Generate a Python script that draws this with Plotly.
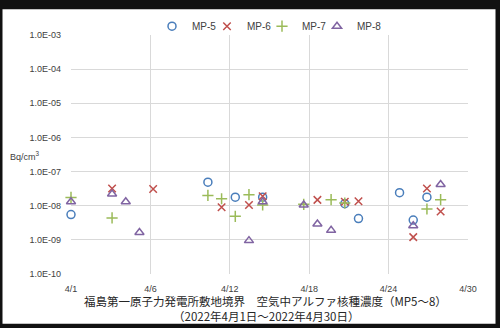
import plotly.graph_objects as go

# Data (day of April 2022, concentration Bq/cm3)
mp5_days = [1, 11, 13, 15, 21, 22, 25, 26, 27]
mp5_vals = [5.5e-9, 4.9e-8, 1.78e-8, 1.78e-8, 1.15e-8, 4.2e-9, 2.4e-8, 3.8e-9, 1.78e-8]

mp6_days = [4, 7, 12, 14, 15, 19, 21, 22, 26, 27, 28]
mp6_vals = [3.2e-8, 3.1e-8, 9.0e-9, 1.05e-8, 1.9e-8, 1.48e-8, 1.3e-8, 1.35e-8, 1.2e-9, 3.2e-8, 6.8e-9]

mp7_days = [1, 4, 11, 12, 13, 14, 15, 18, 20, 21, 27, 28]
mp7_vals = [1.75e-8, 4.4e-9, 2.0e-8, 1.6e-8, 4.9e-9, 2.1e-8, 1.05e-8, 1.1e-8, 1.5e-8, 1.2e-8, 8.0e-9, 1.5e-8]

mp8_days = [1, 4, 5, 6, 14, 15, 18, 19, 20, 26, 28]
mp8_vals = [1.3e-8, 2.2e-8, 1.3e-8, 1.65e-9, 9.5e-10, 1.3e-8, 1.05e-8, 2.9e-9, 1.9e-9, 2.6e-9, 4.2e-8]

x_tickvals = [1, 6.8, 12.6, 18.4, 24.2, 30]
x_ticktext = ["4/1", "4/6", "4/12", "4/18", "4/24", "4/30"]
y_tickvals = [1e-10, 1e-9, 1e-8, 1e-7, 1e-6, 1e-5, 1e-4, 1e-3]
y_ticktext = ["1.0E-10", "1.0E-09", "1.0E-08", "1.0E-07", "1.0E-06", "1.0E-05", "1.0E-04", "1.0E-03"]

series = [
    ("MP-5", mp5_days, mp5_vals, "circle-open", "#4A7EBB", 8),
    ("MP-6", mp6_days, mp6_vals, "x-thin-open", "#C0504D", 7.5),
    ("MP-7", mp7_days, mp7_vals, "cross-thin-open", "#9BBB59", 8),
    ("MP-8", mp8_days, mp8_vals, "triangle-up-open", "#8064A2", 8),
]

fig = go.Figure()
for name, xs, ys, sym, col, sz in series:
    fig.add_trace(go.Scatter(
        x=xs, y=ys, mode="markers", name=name, cliponaxis=False,
        marker=dict(symbol=sym, size=sz, color=col, line=dict(width=1.5, color=col)),
    ))
# empty spacer entry so the last legend label is not clipped
fig.add_trace(go.Scatter(x=[None], y=[None], mode="markers", name=" ",
                         marker=dict(color="rgba(0,0,0,0)", size=1), hoverinfo="skip"))

W, H = 500, 328
ml, mr, mt, mb = 71, 32, 29, 54
pw, ph = W - ml - mr, H - mt - mb


def px(x):
    return (x - ml) / pw


def py(y):
    return (H - mb - y) / ph


tick_font = dict(family="Liberation Sans, Arial, sans-serif", size=9, color="#404040")
jp_font = "Noto Sans CJK JP, sans-serif"

fig.update_layout(
    width=W, height=H,
    margin=dict(l=ml, r=mr, t=mt, b=mb),
    paper_bgcolor="#111111",
    plot_bgcolor="rgba(0,0,0,0)",
    showlegend=True,
    legend=dict(orientation="h", x=px(152), xanchor="left", y=py(20), yanchor="middle",
                font=dict(family="Liberation Sans, Arial, sans-serif", size=10, color="#404040"),
                bgcolor="rgba(0,0,0,0)", itemwidth=30, entrywidth=10, entrywidthmode="pixels",
                tracegroupgap=0),
    xaxis=dict(range=[1, 30], tickvals=x_tickvals, ticktext=x_ticktext,
               showgrid=True, gridcolor="#D9D9D9", gridwidth=1, zeroline=False,
               showline=False, ticks="", tickfont=tick_font, ticklabelstandoff=8),
    yaxis=dict(type="log", range=[-10, -3], tickvals=y_tickvals, ticktext=y_ticktext,
               showgrid=True, gridcolor="#D9D9D9", gridwidth=1, zeroline=False,
               showline=False, ticks="", tickfont=tick_font, ticklabelstandoff=9),
    shapes=[dict(type="rect", xref="paper", yref="paper", layer="below",
                 x0=px(2.5), x1=px(495.5), y0=py(325), y1=py(2.5),
                 fillcolor="white", line=dict(width=0))],
    annotations=[
        dict(text="Bq/cm<sup>3</sup>", xref="paper", yref="paper", x=px(8), y=py(153),
             xanchor="left", yanchor="middle", showarrow=False,
             font=dict(family="Liberation Sans, Arial, sans-serif", size=9, color="#404040")),
        dict(text="福島第一原子力発電所敷地境界　空気中アルファ核種濃度（MP5～8）",
             xref="paper", yref="paper", x=px(265), y=py(301.5), xanchor="center", yanchor="middle",
             showarrow=False, font=dict(family=jp_font, size=11.5, color="#262626")),
        dict(text="（2022年4月1日～2022年4月30日）",
             xref="paper", yref="paper", x=px(266), y=py(317), xanchor="center", yanchor="middle",
             showarrow=False, font=dict(family=jp_font, size=11.5, color="#262626")),
    ],
)

fig.write_html("out.html")
